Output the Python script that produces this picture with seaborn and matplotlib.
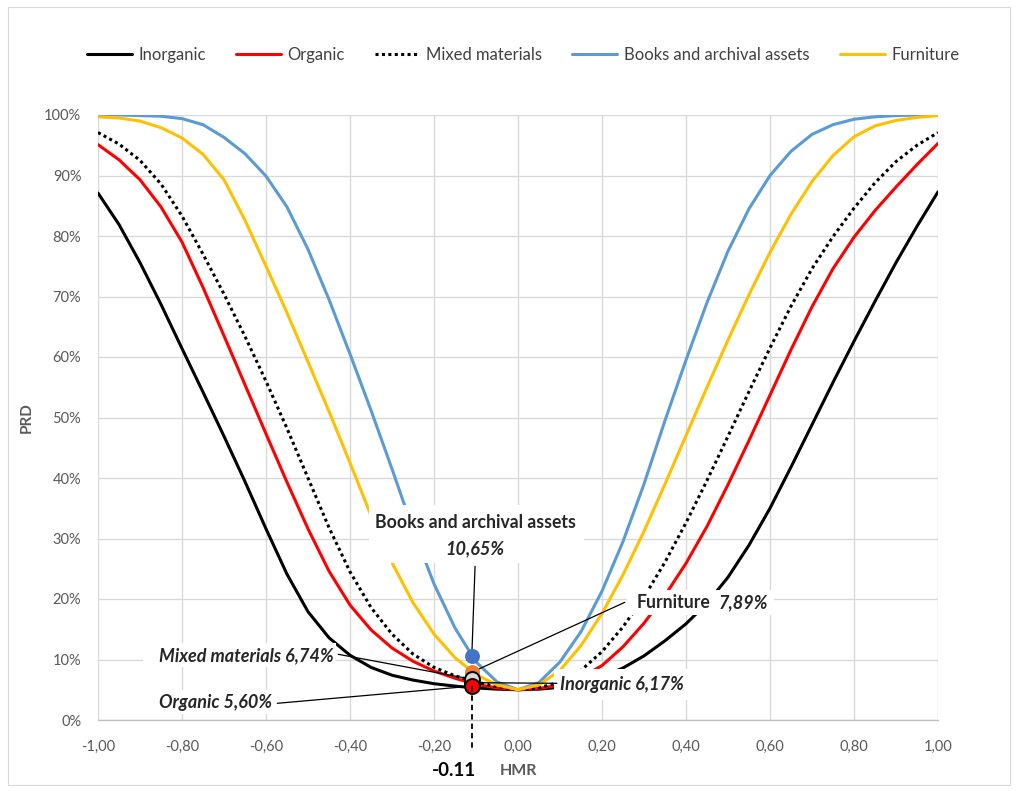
import numpy as np
import pandas as pd
import matplotlib
matplotlib.use("Agg")
import matplotlib.pyplot as plt
from matplotlib.patches import Rectangle
import seaborn as sns

# ---------------- data ----------------
HMR = [-1.00, -0.95, -0.90, -0.85, -0.80, -0.75, -0.70, -0.65, -0.60, -0.55,
       -0.50, -0.45, -0.40, -0.35, -0.30, -0.25, -0.20, -0.15, -0.10, -0.05,
       0.00, 0.05, 0.10, 0.15, 0.20, 0.25, 0.30, 0.35, 0.40, 0.45,
       0.50, 0.55, 0.60, 0.65, 0.70, 0.75, 0.80, 0.85, 0.90, 0.95, 1.00]

inorganic = [87.1, 81.9, 75.6, 68.7, 61.4, 54.2, 46.9, 39.4, 31.6, 24.1,
             17.9, 13.6, 10.7, 8.7, 7.4, 6.6, 6.0, 5.6, 5.3, 5.1,
             5.0, 5.1, 5.4, 6.1, 7.1, 8.6, 10.6, 13.1, 15.9, 19.3,
             23.6, 28.9, 35.0, 41.8, 48.8, 55.8, 62.6, 69.2, 75.6, 81.6, 87.3]
organic = [95.1, 92.6, 89.3, 84.8, 79.0, 71.5, 63.5, 55.4, 47.3, 39.3,
           31.6, 24.6, 19.0, 14.9, 11.9, 9.7, 8.1, 6.9, 5.9, 5.3,
           5.0, 5.2, 5.8, 7.0, 9.0, 12.1, 16.0, 20.6, 25.9, 32.0,
           38.9, 46.2, 53.7, 61.2, 68.3, 74.6, 79.8, 84.2, 88.1, 91.8, 95.3]
mixed = [97.1, 95.2, 92.5, 88.6, 83.3, 77.0, 70.4, 63.4, 56.0, 48.2,
         40.0, 31.8, 24.5, 18.6, 14.2, 10.9, 8.7, 7.3, 6.3, 5.5,
         5.0, 5.3, 6.3, 8.2, 11.3, 15.4, 20.3, 26.1, 32.6, 39.6,
         46.9, 54.3, 61.5, 68.4, 74.6, 79.9, 84.6, 88.8, 92.3, 95.0, 97.1]
books = [100.0, 100.0, 99.9, 99.8, 99.4, 98.4, 96.3, 93.6, 89.9, 84.8,
         77.8, 69.5, 60.5, 51.2, 41.5, 31.5, 22.5, 15.2, 9.6, 6.3,
         5.0, 6.2, 9.6, 14.6, 21.3, 29.5, 39.0, 49.5, 59.5, 69.0,
         77.5, 84.5, 90.0, 94.0, 96.8, 98.4, 99.3, 99.7, 99.9, 100.0, 100.0]
furniture = [99.7, 99.5, 99.0, 97.9, 96.2, 93.5, 89.3, 82.6, 75.0, 67.3,
             59.2, 51.0, 42.5, 33.8, 26.0, 19.4, 14.2, 10.3, 7.5, 5.8,
             5.0, 5.8, 8.2, 12.3, 17.6, 24.0, 31.2, 39.0, 47.0, 55.0,
             62.8, 70.3, 77.3, 83.6, 89.0, 93.3, 96.4, 98.2, 99.1, 99.6, 99.9]

series_names = ["Inorganic", "Organic", "Mixed materials",
                "Books and archival assets", "Furniture"]

point_hmr = -0.11
point_values = {"Books and archival assets": 10.65, "Furniture": 7.89,
                "Mixed materials": 6.74, "Inorganic": 6.17, "Organic": 5.60}

x_ticks = [-1.0, -0.8, -0.6, -0.4, -0.2, 0.0, 0.2, 0.4, 0.6, 0.8, 1.0]
y_ticks = [0, 10, 20, 30, 40, 50, 60, 70, 80, 90, 100]

# ---------------- style ----------------
sns.set_theme(style="white")
plt.rcParams["font.family"] = ["Lato", "DejaVu Sans"]

colors = {"Inorganic": "#000000", "Organic": "#FF0000",
          "Mixed materials": "#000000",
          "Books and archival assets": "#5B9BD5", "Furniture": "#FFC000"}
styles = {"Inorganic": "-", "Organic": "-", "Mixed materials": (0, (1, 1.1)),
          "Books and archival assets": "-", "Furniture": "-"}
marker_colors = {"Books and archival assets": ("#4472C4", "#4472C4"),
                 "Furniture": ("#ED7D31", "#ED7D31"),
                 "Mixed materials": ("#D9D9D9", "#000000"),
                 "Inorganic": ("#FFFFFF", "#000000"),
                 "Organic": ("#FF0000", "#000000")}

data = pd.DataFrame({"HMR": HMR, "Inorganic": inorganic, "Organic": organic,
                     "Mixed materials": mixed,
                     "Books and archival assets": books,
                     "Furniture": furniture})
long = data.melt(id_vars="HMR", var_name="series", value_name="PRD")

W, H = 1017, 791
fig = plt.figure(figsize=(W / 100, H / 100), dpi=100)
ax = fig.add_axes([98 / W, 71 / H, 840 / W, 605 / H])

# outer chart border
fig.patches.append(Rectangle((8 / W, 6 / H), 1002 / W, 778 / H,
                             transform=fig.transFigure, fill=False,
                             edgecolor="#d9d9d9", lw=0.8))

for name in series_names:
    sub = long[long["series"] == name]
    sns.lineplot(data=sub, x="HMR", y="PRD", ax=ax, color=colors[name],
                 lw=2.2, linestyle=styles[name], zorder=2,
                 legend=False, sort=True)
for ln in ax.get_lines():
    ln.set_solid_joinstyle("round")
    ln.set_solid_capstyle("round")

ax.set_xlim(-1, 1)
ax.set_ylim(0, 100)
ax.set_xticks(x_ticks)
ax.set_yticks(y_ticks)
ax.set_xticklabels([f"{v:.2f}".replace(".", ",") for v in x_ticks])
ax.set_yticklabels([f"{v:d}%" for v in y_ticks])
ax.grid(True, color="#d9d9d9", lw=1.0, zorder=0)
ax.set_axisbelow(True)
for s in ["top", "right", "left"]:
    ax.spines[s].set_visible(False)
ax.spines["bottom"].set_color("#bfbfbf")
ax.spines["bottom"].set_linewidth(1.0)
ax.tick_params(axis="both", length=0, labelsize=10.5, colors="#595959")
ax.tick_params(axis="x", pad=14)
ax.tick_params(axis="y", pad=12)
ax.set_xlabel("")
ax.set_ylabel("")

# axis titles
ax.text(0.0, -51 / 605, "HMR", transform=ax.get_xaxis_transform(),
        ha="center", va="center", fontsize=11.5, fontweight="bold",
        color="#595959")
fig.text(27 / W, 1 - 418 / H, "PRD", ha="center", va="center",
         rotation=90, fontsize=11, fontweight="bold", color="#595959")
ax.text(-0.152, -51 / 605, f"{point_hmr:.2f}", transform=ax.get_xaxis_transform(),
        ha="center", va="center", fontsize=13.5, fontweight="bold",
        color="#000000")

# dashed drop line at the point
ax.plot([point_hmr, point_hmr], [point_values["Organic"], -4.6], ls=(0, (3, 2.2)),
        color="#000000", lw=1.3, clip_on=False, zorder=6)


def px(xp, yp):
    """pixel position -> data coordinates"""
    return (xp - 519) / 420.5, (719.7 - yp) / 6.05


def box(x0, y0, x1, y1):
    (a, b), (c, d) = px(x0, y1), px(x1, y0)
    ax.add_patch(Rectangle((a, b), c - a, d - b, facecolor="white",
                           edgecolor="none", zorder=3))


# label boxes
box(370, 505, 585, 563)
box(628, 590, 775, 615)
box(555, 669, 705, 700)
box(144, 643, 337, 667)
box(155, 690, 277, 714)

# leader lines
lk = dict(color="#000000", lw=0.9, zorder=4)
xm = point_hmr
ax.plot([px(476, 0)[0], xm], [px(0, 566)[1], point_values["Books and archival assets"]], **lk)
ax.plot([px(626, 0)[0], xm], [px(0, 602)[1], point_values["Furniture"]], **lk)
ax.plot([px(339, 0)[0], xm], [px(0, 654)[1], point_values["Mixed materials"]], **lk)
ax.plot([px(278, 0)[0], xm], [px(0, 703)[1], point_values["Organic"]], **lk)
ax.plot([px(558, 0)[0], xm], [px(0, 683)[1], point_values["Inorganic"]], **lk)

# points
for name in ["Books and archival assets", "Furniture", "Inorganic",
             "Mixed materials", "Organic"]:
    fc, ec = marker_colors[name]
    ax.scatter([point_hmr], [point_values[name]], s=115, color=fc,
               edgecolors=ec, linewidths=1.4 if ec == "#000000" else 0,
               zorder=5)


def pct(v):
    return f"{v:.2f}".replace(".", ",") + "%"


tb = dict(fontsize=12.7, fontweight="bold", color="#262626", zorder=4.5)
ti = dict(fontsize=13, fontweight="bold", style="italic", color="#262626",
          zorder=4.5)
x, y = px(476, 522)
ax.text(x, y, "Books and archival assets", ha="center", va="center", **tb)
x, y = px(476, 548)
ax.text(x, y, pct(point_values["Books and archival assets"]), ha="center",
        va="center", **ti)
x, y = px(638, 602)
ax.text(x, y, "Furniture", ha="left", va="center", **tb)
x, y = px(720, 602)
ax.text(x, y, pct(point_values["Furniture"]), ha="left", va="center", **ti)
x, y = px(335, 655)
ax.text(x, y, "Mixed materials " + pct(point_values["Mixed materials"]),
        ha="right", va="center", **ti)
x, y = px(273, 702)
ax.text(x, y, "Organic " + pct(point_values["Organic"]), ha="right",
        va="center", **ti)
x, y = px(561, 684)
ax.text(x, y, "Inorganic " + pct(point_values["Inorganic"]), ha="left",
        va="center", **ti)

# legend
handles = [plt.Line2D([], [], color=colors[n], lw=2.2, linestyle=styles[n])
           for n in series_names]
fig.legend(handles, series_names, loc="center", ncol=5,
           bbox_to_anchor=(523 / W, 1 - 55 / H), frameon=False,
           fontsize=12, handlelength=2.7, handletextpad=0.4,
           columnspacing=1.8, labelcolor="#404040")

fig.savefig("out.png", dpi=100, facecolor="white")
